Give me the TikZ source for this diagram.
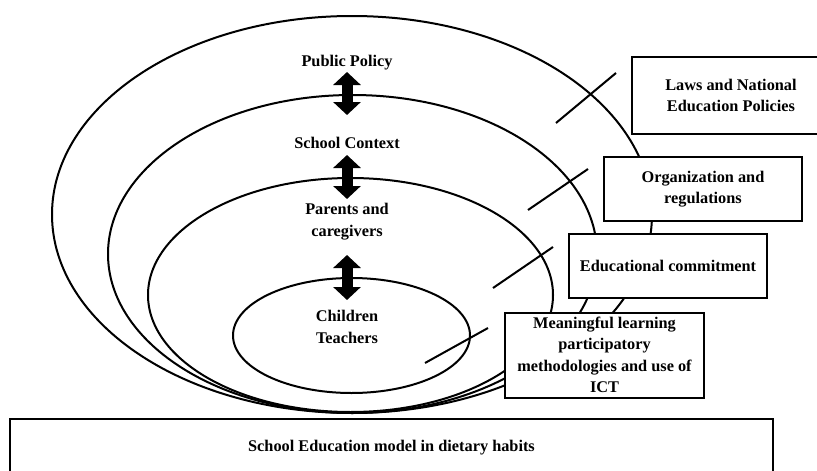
\documentclass[tikz,border=0pt]{standalone}
\usepackage{fontspec}
\setmainfont{Liberation Serif}
\usetikzlibrary{shapes.geometric,arrows.meta}

\tikzset{
  ring/.style={draw, ellipse, line width=2pt, inner sep=0pt},
  infobox/.style={draw, fill=white, line width=2pt, align=center, inner sep=0pt},
  tick/.style={line width=2pt},
  twoway/.style={line width=11pt, {Triangle[width=27pt,length=13pt]}-{Triangle[width=27pt,length=13pt]}}
}

\begin{document}
\begin{tikzpicture}[x=1pt, y=-1pt]
\tikzstyle{every node}+=[font=\fontsize{16.3}{21.5}\selectfont\bfseries]
\useasboundingbox (0,0) rectangle (817,471);
\clip (0,0) rectangle (817,471);

\node [ring, minimum width=600, minimum height=397] (policyRing) at (352,214.5) {};
\node [ring, minimum width=489, minimum height=318] (schoolRing) at (352.5,254) {};
\node [ring, minimum width=405, minimum height=234] (familyRing) at (350.5,295) {};
\node [ring, minimum width=237, minimum height=115] (classRing) at (351.5,335.5) {};

\node (policy) at (347,63) {Public Policy};
\node (context) at (347,143) {School Context};
\node [align=center] (parents) at (347,221.5) {Parents and\\caregivers};
\node [align=center] (kids) at (347,327) {Children\\Teachers};

\coordinate (a1top) at (347,72);
\coordinate (a1bot) at (347,115);
\coordinate (a2top) at (347,155);
\coordinate (a2bot) at (347,199);
\coordinate (a3top) at (347,255);
\coordinate (a3bot) at (347,300);
\draw [twoway] (a1top) -- (a1bot);
\draw [twoway] (a2top) -- (a2bot);
\draw [twoway] (a3top) -- (a3bot);

\coordinate (t1a) at (556,123);
\coordinate (t1b) at (616,73);
\coordinate (t2a) at (528,210);
\coordinate (t2b) at (588,169);
\coordinate (t3a) at (493,288);
\coordinate (t3b) at (553,247);
\coordinate (t4a) at (425,363);
\coordinate (t4b) at (488,328);
\draw [tick] (t1a) -- (t1b);
\draw [tick] (t2a) -- (t2b);
\draw [tick] (t3a) -- (t3b);
\draw [tick] (t4a) -- (t4b);

\node [infobox, minimum width=198, minimum height=77] (laws) at (731,95.5) {Laws and National\\Education Policies};
\node [infobox, minimum width=198, minimum height=64] (rules) at (703,189) {Organization and\\regulations};
\node [infobox, minimum width=198, minimum height=64] (commit) at (668,266) {Educational commitment};
\node [infobox, minimum width=199, minimum height=85] (learning) at (604.5,355) {Meaningful learning\\participatory\\methodologies and use of\\ICT};
\node [infobox, minimum width=763, minimum height=58] (model) at (391.5,448) {School Education model in dietary habits};
\end{tikzpicture}
\end{document}
